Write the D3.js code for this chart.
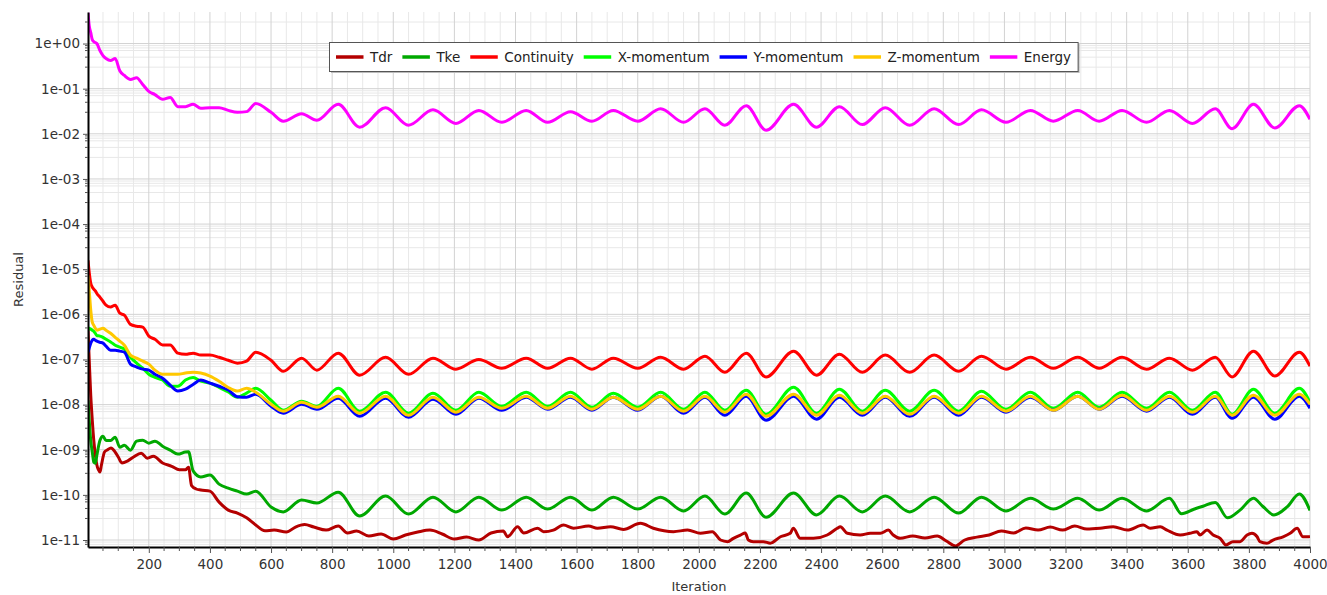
<!DOCTYPE html>
<html>
<head>
<meta charset="utf-8">
<script src="https://cdn.jsdelivr.net/npm/d3@7"></script>
<style>
  body { margin: 0; background: #fff; }
  text { font-family: "DejaVu Sans", sans-serif; }
</style>
</head>
<body>
<div id="my_dataviz"></div>
<script>
// residual history, [iteration, residual] pairs
var tdr = [[1,4.4e-7],[5,9.7e-8],[10,1.6e-8],[15,4.5e-9],[20,1.6e-9],[25,7.6e-10],[30,4.6e-10],[35,3.6e-10],[40,3.2e-10],[45,4.6e-10],[55,8.9e-10],[65,1.0e-9],[76,1.1e-9],[90,8.9e-10],[100,6.9e-10],[112,5.1e-10],[130,5.6e-10],[150,6.9e-10],[175,8.4e-10],[195,6.5e-10],[215,7.2e-10],[245,5.1e-10],[275,4.3e-10],[300,3.6e-10],[320,3.6e-10],[330,4.1e-10],[340,1.6e-10],[355,1.35e-10],[370,1.28e-10],[400,1.21e-10],[430,6.9e-11],[460,4.6e-11],[490,3.95e-11],[520,3.1e-11],[550,2.15e-11],[580,1.6e-11],[610,1.66e-11],[650,1.5e-11],[680,1.94e-11],[710,2.2e-11],[740,1.94e-11],[780,1.66e-11],[820,2.04e-11],[850,1.43e-11],[880,1.58e-11],[920,1.23e-11],[960,1.36e-11],[1000,1.05e-11],[1040,1.29e-11],[1080,1.5e-11],[1120,1.66e-11],[1160,1.36e-11],[1200,1.05e-11],[1240,1.16e-11],[1280,1.0e-11],[1320,1.43e-11],[1360,1.58e-11],[1374,1.18e-11],[1407,1.97e-11],[1427,1.43e-11],[1472,1.82e-11],[1492,1.53e-11],[1524,1.66e-11],[1557,2.15e-11],[1590,1.82e-11],[1639,2.04e-11],[1668,1.82e-11],[1711,1.97e-11],[1753,1.72e-11],[1809,2.34e-11],[1851,1.82e-11],[1917,1.53e-11],[1963,1.66e-11],[2005,1.41e-11],[2044,1.53e-11],[2071,1.0e-11],[2094,9.2e-12],[2113,1.09e-11],[2136,1.29e-11],[2152,1.43e-11],[2162,1.0e-11],[2178,9.2e-12],[2211,9.2e-12],[2234,8.5e-12],[2267,1.18e-11],[2299,1.41e-11],[2309,1.82e-11],[2332,1.09e-11],[2375,1.09e-11],[2420,1.29e-11],[2453,1.82e-11],[2463,1.97e-11],[2486,1.41e-11],[2528,1.29e-11],[2561,1.41e-11],[2594,1.41e-11],[2620,1.66e-11],[2636,1.29e-11],[2659,1.09e-11],[2700,1.23e-11],[2740,1.11e-11],[2780,1.23e-11],[2810,9.5e-12],[2840,7.4e-12],[2870,1.0e-11],[2910,1.16e-11],[2950,1.29e-11],[2990,1.58e-11],[3030,1.43e-11],[3070,1.84e-11],[3110,1.66e-11],[3150,1.94e-11],[3190,1.66e-11],[3230,2.04e-11],[3270,1.75e-11],[3313,1.82e-11],[3356,1.97e-11],[3402,1.66e-11],[3454,2.15e-11],[3477,1.82e-11],[3510,1.97e-11],[3532,1.66e-11],[3575,1.29e-11],[3607,1.41e-11],[3630,1.53e-11],[3640,1.29e-11],[3663,1.66e-11],[3683,1.29e-11],[3706,1.09e-11],[3725,7.75e-12],[3748,9.2e-12],[3771,9.2e-12],[3794,1.29e-11],[3810,1.41e-11],[3827,1.18e-11],[3836,9.2e-12],[3859,8.5e-12],[3879,1.0e-11],[3912,1.18e-11],[3935,1.41e-11],[3958,1.82e-11],[3977,1.18e-11],[3993,1.18e-11],[4000,1.2e-11]];

var tke = [[1,1.25e-8],[5,4.5e-9],[10,1.6e-9],[15,8.9e-10],[20,5.3e-10],[25,5.0e-10],[30,7.6e-10],[40,1.6e-9],[50,2.0e-9],[60,1.6e-9],[75,1.6e-9],[90,1.9e-9],[105,1.14e-9],[120,1.26e-9],[140,9.8e-10],[160,1.55e-9],[180,1.63e-9],[200,1.4e-9],[220,1.55e-9],[245,1.2e-9],[270,9.8e-10],[295,8.0e-10],[320,8.9e-10],[330,9.0e-10],[345,3.4e-10],[370,2.5e-10],[400,2.75e-10],[430,1.73e-10],[460,1.41e-10],[490,1.21e-10],[520,1.04e-10],[550,1.21e-10],[600,5.4e-11],[640,4.2e-11],[700,7.7e-11],[750,6.6e-11],[820,1.15e-10],[890,3.4e-11],[975,9.4e-11],[1050,3.75e-11],[1130,8.9e-11],[1205,4.2e-11],[1280,8.9e-11],[1355,4.6e-11],[1435,8.9e-11],[1505,4.85e-11],[1580,8.9e-11],[1650,4.6e-11],[1720,8.9e-11],[1800,4.85e-11],[1875,8.9e-11],[1950,4.4e-11],[2020,9.4e-11],[2085,3.75e-11],[2155,1.1e-10],[2220,3.2e-11],[2310,1.1e-10],[2385,3.6e-11],[2460,9.4e-11],[2535,4.2e-11],[2610,9.4e-11],[2690,4.2e-11],[2770,8.9e-11],[2850,3.95e-11],[2925,8.9e-11],[3005,4.4e-11],[3085,8.4e-11],[3160,4.85e-11],[3240,8.4e-11],[3310,4.6e-11],[3385,8.4e-11],[3465,4.4e-11],[3540,8.4e-11],[3580,3.8e-11],[3620,4.8e-11],[3650,5.6e-11],[3690,6.8e-11],[3730,3.1e-11],[3771,4.6e-11],[3815,8.4e-11],[3845,5.6e-11],[3882,3.6e-11],[3925,5.4e-11],[3965,1.05e-10],[4000,4.5e-11]];

var continuity = [[1,1.57e-5],[5,8.5e-6],[10,4.9e-6],[15,4.0e-6],[20,3.6e-6],[25,3.3e-6],[30,2.9e-6],[40,2.4e-6],[50,1.95e-6],[60,1.6e-6],[75,1.45e-6],[90,1.6e-6],[105,1.06e-6],[120,9.6e-7],[140,6.0e-7],[160,5.45e-7],[180,5.2e-7],[200,3.3e-7],[220,2.8e-7],[245,2.1e-7],[270,2.1e-7],[295,1.38e-7],[320,1.3e-7],[345,1.38e-7],[370,1.25e-7],[400,1.25e-7],[430,1.12e-7],[460,9.6e-8],[490,8.3e-8],[520,9.2e-8],[550,1.45e-7],[600,9.6e-8],[640,5.5e-8],[700,1.07e-7],[750,5.8e-8],[820,1.38e-7],[890,4.5e-8],[975,1.12e-7],[1050,4.7e-8],[1130,1.07e-7],[1205,6.1e-8],[1280,1.0e-7],[1355,6.4e-8],[1435,1.07e-7],[1505,6.4e-8],[1580,1.07e-7],[1650,6.1e-8],[1720,1.07e-7],[1800,6.4e-8],[1875,1.12e-7],[1950,6.1e-8],[2020,1.18e-7],[2085,5.2e-8],[2155,1.38e-7],[2220,4.1e-8],[2310,1.53e-7],[2385,4.5e-8],[2460,1.31e-7],[2535,5.2e-8],[2610,1.25e-7],[2690,5.2e-8],[2770,1.25e-7],[2850,5.5e-8],[2925,1.18e-7],[3005,6.1e-8],[3085,1.12e-7],[3160,6.4e-8],[3240,1.12e-7],[3310,6.4e-8],[3385,1.12e-7],[3465,6.1e-8],[3540,1.07e-7],[3615,5.8e-8],[3690,1.12e-7],[3745,4.1e-8],[3815,1.53e-7],[3885,4.3e-8],[3965,1.45e-7],[4000,7.1e-8]];

var xMomentum = [[1,4.45e-7],[5,4.9e-7],[10,4.7e-7],[15,4.45e-7],[20,4.2e-7],[25,3.8e-7],[30,3.4e-7],[40,3.3e-7],[50,3.1e-7],[60,2.8e-7],[75,2.45e-7],[90,2.07e-7],[105,1.87e-7],[120,1.7e-7],[140,1.12e-7],[160,8.3e-8],[180,6.4e-8],[200,4.7e-8],[220,4.0e-8],[245,3.5e-8],[270,2.55e-8],[295,2.55e-8],[320,3.5e-8],[345,4.0e-8],[370,3.3e-8],[400,3.0e-8],[430,2.4e-8],[460,1.9e-8],[490,1.46e-8],[520,1.8e-8],[550,2.31e-8],[600,1.25e-8],[640,7.5e-9],[700,1.19e-8],[750,9.2e-9],[820,2.31e-8],[890,7.15e-9],[975,1.88e-8],[1050,6.45e-9],[1130,1.79e-8],[1205,7.5e-9],[1280,1.88e-8],[1355,9.2e-9],[1435,1.88e-8],[1505,9.2e-9],[1580,1.88e-8],[1650,8.75e-9],[1720,1.79e-8],[1800,8.75e-9],[1875,1.88e-8],[1950,7.9e-9],[2020,1.88e-8],[2085,7.5e-9],[2155,2.08e-8],[2220,6.1e-9],[2310,2.43e-8],[2385,6.45e-9],[2460,2.2e-8],[2535,7.15e-9],[2610,2.08e-8],[2690,7.15e-9],[2770,2.08e-8],[2850,7.15e-9],[2925,1.98e-8],[3005,7.9e-9],[3085,1.88e-8],[3160,8.3e-9],[3240,1.88e-8],[3310,8.75e-9],[3385,1.88e-8],[3465,8.3e-9],[3540,1.88e-8],[3615,7.5e-9],[3690,1.88e-8],[3745,6.1e-9],[3815,2.2e-8],[3885,6.45e-9],[3965,2.31e-8],[4000,1.13e-8]];

var yMomentum = [[1,1.45e-7],[5,1.78e-7],[10,2.3e-7],[15,2.67e-7],[20,2.8e-7],[25,2.67e-7],[30,2.55e-7],[40,2.4e-7],[50,2.3e-7],[60,1.97e-7],[75,1.6e-7],[90,1.6e-7],[105,1.53e-7],[120,1.45e-7],[140,7.9e-8],[160,6.8e-8],[180,6.1e-8],[200,5.8e-8],[220,4.7e-8],[245,3.85e-8],[270,2.7e-8],[295,2.0e-8],[320,2.2e-8],[345,2.8e-8],[370,3.5e-8],[400,3.0e-8],[430,2.55e-8],[460,2.1e-8],[490,1.5e-8],[520,1.46e-8],[550,1.7e-8],[600,9.2e-9],[640,6.45e-9],[700,1.02e-8],[750,7.9e-9],[820,1.39e-8],[890,5.5e-9],[975,1.39e-8],[1050,5.25e-9],[1130,1.32e-8],[1205,6.1e-9],[1280,1.39e-8],[1355,7.5e-9],[1435,1.46e-8],[1505,7.9e-9],[1580,1.46e-8],[1650,7.5e-9],[1720,1.46e-8],[1800,7.5e-9],[1875,1.53e-8],[1950,6.45e-9],[2020,1.46e-8],[2085,5.8e-9],[2155,1.53e-8],[2220,4.5e-9],[2310,1.53e-8],[2385,4.75e-9],[2460,1.46e-8],[2535,5.8e-9],[2610,1.46e-8],[2690,5.5e-9],[2770,1.46e-8],[2850,5.8e-9],[2925,1.46e-8],[3005,6.8e-9],[3085,1.46e-8],[3160,7.5e-9],[3240,1.53e-8],[3310,7.9e-9],[3385,1.53e-8],[3465,7.15e-9],[3540,1.46e-8],[3615,6.1e-9],[3690,1.46e-8],[3745,5.0e-9],[3815,1.46e-8],[3885,4.75e-9],[3965,1.53e-8],[4000,8.3e-9]];

var zMomentum = [[1,7.3e-6],[5,3.4e-6],[10,1.24e-6],[15,6.7e-7],[20,5.7e-7],[25,4.9e-7],[30,4.45e-7],[40,4.7e-7],[50,4.9e-7],[60,4.45e-7],[75,3.8e-7],[90,3.1e-7],[105,2.56e-7],[120,2.07e-7],[140,1.25e-7],[160,1.07e-7],[180,9.2e-8],[200,7.9e-8],[220,5.8e-8],[245,4.7e-8],[270,4.7e-8],[295,4.7e-8],[320,5.0e-8],[345,5.2e-8],[370,5.0e-8],[400,4.3e-8],[430,3.3e-8],[460,2.4e-8],[490,2.0e-8],[520,2.3e-8],[550,1.88e-8],[600,1.02e-8],[640,7.15e-9],[700,1.13e-8],[750,8.75e-9],[820,1.53e-8],[890,6.45e-9],[975,1.53e-8],[1050,5.8e-9],[1130,1.46e-8],[1205,6.8e-9],[1280,1.46e-8],[1355,8.3e-9],[1435,1.53e-8],[1505,8.3e-9],[1580,1.53e-8],[1650,7.9e-9],[1720,1.46e-8],[1800,7.9e-9],[1875,1.53e-8],[1950,7.15e-9],[2020,1.53e-8],[2085,6.8e-9],[2155,1.7e-8],[2220,5.5e-9],[2310,1.7e-8],[2385,5.8e-9],[2460,1.61e-8],[2535,6.45e-9],[2610,1.53e-8],[2690,6.1e-9],[2770,1.53e-8],[2850,6.45e-9],[2925,1.53e-8],[3005,7.15e-9],[3085,1.53e-8],[3160,7.5e-9],[3240,1.53e-8],[3310,7.9e-9],[3385,1.61e-8],[3465,7.5e-9],[3540,1.53e-8],[3615,6.8e-9],[3690,1.53e-8],[3745,5.8e-9],[3815,1.61e-8],[3885,5.8e-9],[3965,1.7e-8],[4000,1.02e-8]];

var energy = [[1,4.8],[5,2.5],[10,1.75],[15,1.22],[20,1.1],[25,1.05],[30,1.0],[40,0.70],[50,0.54],[60,0.465],[75,0.42],[90,0.465],[105,0.25],[120,0.196],[140,0.16],[160,0.175],[180,0.124],[200,0.087],[220,0.074],[245,0.058],[270,0.064],[295,0.040],[320,0.040],[345,0.045],[370,0.037],[400,0.038],[430,0.038],[460,0.033],[490,0.030],[520,0.031],[550,4.7e-2],[600,3.0e-2],[640,1.9e-2],[700,2.8e-2],[750,2.0e-2],[820,4.5e-2],[890,1.4e-2],[975,3.8e-2],[1050,1.55e-2],[1130,3.4e-2],[1205,1.7e-2],[1280,3.3e-2],[1355,1.8e-2],[1435,3.3e-2],[1505,1.8e-2],[1580,3.1e-2],[1650,1.9e-2],[1720,3.3e-2],[1800,1.9e-2],[1875,3.6e-2],[1950,1.8e-2],[2020,3.6e-2],[2085,1.55e-2],[2155,4.2e-2],[2220,1.2e-2],[2310,4.5e-2],[2385,1.4e-2],[2460,4.0e-2],[2535,1.6e-2],[2610,3.8e-2],[2690,1.55e-2],[2770,3.6e-2],[2850,1.6e-2],[2925,3.4e-2],[3005,1.8e-2],[3085,3.3e-2],[3160,1.9e-2],[3240,3.3e-2],[3310,1.9e-2],[3385,3.3e-2],[3465,1.8e-2],[3540,3.3e-2],[3615,1.7e-2],[3690,3.6e-2],[3745,1.3e-2],[3815,4.5e-2],[3885,1.35e-2],[3965,4.2e-2],[4000,2.1e-2]];

var seriesNames = ["Tdr", "Tke", "Continuity", "X-momentum", "Y-momentum", "Z-momentum", "Energy"];
var seriesColors = ["#b40000", "#00a800", "#ff0000", "#00ff00", "#0000ff", "#ffc800", "#ff00ff"];
var seriesData = [tdr, tke, continuity, xMomentum, yMomentum, zMomentum, energy];

var xTicks = d3.range(200, 4001, 200);
var yDecades = d3.range(0, -12, -1).map(function(e) { return Math.pow(10, e); });

function draw_residuals() {
    var width = 1327, height = 595;
    var left = 88, right = 1310, top = 12, bottom = 547;

    var svg = d3.select("#my_dataviz").append("svg")
        .attr("width", width)
        .attr("height", height)
        .style("background-color", "white");

    var x = d3.scaleLinear().domain([1, 4000]).range([left, right]);
    var y = d3.scaleLog().domain([7e-12, 5]).range([bottom, top]);

    // grid
    var minorX = d3.range(50, 4001, 50).filter(function(d) { return d % 200 != 0; });
    var minorY = [];
    yDecades.concat([10]).forEach(function(dec) {
        [0.3, 0.5, 0.7, 0.8, 0.9].forEach(function(m) {
            var v = dec * m;
            if (v > 7e-12 && v < 5) minorY.push(v);
        });
    });

    var grid = svg.append("g");
    grid.selectAll(".vmin").data(minorX).enter().append("line")
        .attr("x1", function(d) { return x(d); }).attr("x2", function(d) { return x(d); })
        .attr("y1", top).attr("y2", bottom)
        .attr("stroke", "#e8e8e8").attr("stroke-width", 1);
    grid.selectAll(".hmin").data(minorY).enter().append("line")
        .attr("x1", left).attr("x2", right)
        .attr("y1", function(d) { return y(d); }).attr("y2", function(d) { return y(d); })
        .attr("stroke", "#e8e8e8").attr("stroke-width", 1);
    grid.selectAll(".vmaj").data(xTicks).enter().append("line")
        .attr("x1", function(d) { return x(d); }).attr("x2", function(d) { return x(d); })
        .attr("y1", top).attr("y2", bottom)
        .attr("stroke", "#d2d2d2").attr("stroke-width", 1);
    grid.selectAll(".hmaj").data(yDecades).enter().append("line")
        .attr("x1", left).attr("x2", right)
        .attr("y1", function(d) { return y(d); }).attr("y2", function(d) { return y(d); })
        .attr("stroke", "#d2d2d2").attr("stroke-width", 1);

    // lines
    svg.append("clipPath").attr("id", "plotclip")
        .append("rect").attr("x", left).attr("y", top)
        .attr("width", right - left).attr("height", bottom - top);

    var line = d3.line()
        .x(function(d) { return x(d[0]); })
        .y(function(d) { return y(d[1]); })
        .curve(d3.curveMonotoneX);

    svg.append("g").attr("clip-path", "url(#plotclip)")
        .selectAll("path")
        .data(seriesData)
        .enter()
        .append("path")
            .attr("d", line)
            .attr("fill", "none")
            .attr("stroke", function(d, i) { return seriesColors[i]; })
            .attr("stroke-width", 3)
            .attr("stroke-linejoin", "round");

    // axes
    function expFmt(v) {
        var e = Math.round(Math.log10(v));
        var s = e < 0 ? "-" : "+";
        var a = Math.abs(e);
        return "1e" + s + (a < 10 ? "0" + a : a);
    }

    var xAxis = svg.append("g")
        .attr("transform", "translate(0," + bottom + ")")
        .call(d3.axisBottom(x).tickValues(xTicks).tickFormat(d3.format("d"))
            .tickSize(6).tickSizeOuter(0).tickPadding(6));
    xAxis.append("g").selectAll("line").data(minorX).enter().append("line")
        .attr("x1", function(d) { return x(d); }).attr("x2", function(d) { return x(d); })
        .attr("y1", 0).attr("y2", 4).attr("stroke", "#555");

    var yAxis = svg.append("g")
        .attr("transform", "translate(" + left + ",0)")
        .call(d3.axisLeft(y).tickValues(yDecades).tickFormat(expFmt).tickSize(5).tickSizeOuter(0).tickPadding(3));
    yAxis.append("g").selectAll("line").data(minorY).enter().append("line")
        .attr("y1", function(d) { return y(d); }).attr("y2", function(d) { return y(d); })
        .attr("x1", 0).attr("x2", -3).attr("stroke", "#555");

    [xAxis, yAxis].forEach(function(ax) {
        ax.select(".domain").attr("stroke", "#000").attr("stroke-width", 2);
        ax.selectAll(".tick line").attr("stroke", "#555");
        ax.selectAll(".tick text")
            .attr("fill", "#333")
            .style("font-family", "DejaVu Sans")
            .style("font-size", "13.5px");
    });

    svg.append("text")
        .attr("x", (left + right) / 2).attr("y", 591)
        .attr("text-anchor", "middle")
        .attr("fill", "#333").style("font-size", "13px")
        .text("Iteration");
    svg.append("text")
        .attr("transform", "translate(23," + (top + bottom) / 2 + ") rotate(-90)")
        .attr("text-anchor", "middle")
        .attr("fill", "#333").style("font-size", "13px")
        .text("Residual");

    // legend
    var legend = svg.append("g");
    var shadow = legend.append("rect").attr("fill", "#bbb");
    var box = legend.append("rect").attr("fill", "white").attr("stroke", "#555").attr("stroke-width", 1);
    var cx = 336, ly = 57;
    seriesNames.forEach(function(name, i) {
        legend.append("line")
            .attr("x1", cx).attr("x2", cx + 27.5)
            .attr("y1", ly).attr("y2", ly)
            .attr("stroke", seriesColors[i]).attr("stroke-width", 3.5);
        var t = legend.append("text")
            .attr("x", cx + 34).attr("y", ly + 4.5)
            .attr("fill", "#222").style("font-size", "13.5px")
            .text(name);
        cx = cx + 34 + t.node().getComputedTextLength() + 10;
    });
    box.attr("x", 329.5).attr("y", 42.5).attr("width", cx - 3 - 329.5).attr("height", 29);
    shadow.attr("x", 331).attr("y", 44).attr("width", cx - 3 - 329.5).attr("height", 29);
}

draw_residuals();
</script>
</body>
</html>
